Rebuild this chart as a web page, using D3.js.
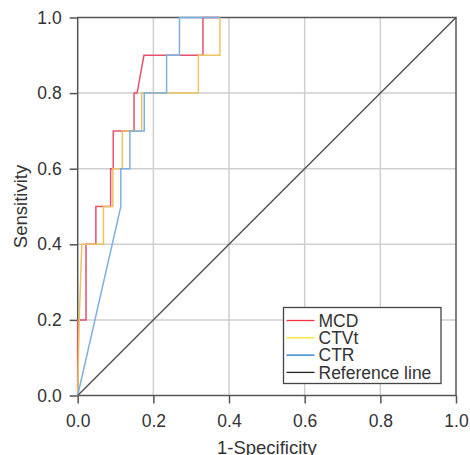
<!DOCTYPE html>
<html>
<head>
<meta charset="utf-8">
<script src="https://cdn.jsdelivr.net/npm/d3@7.9.0/dist/d3.min.js"></script>
<style>
  body { margin: 0; background: #fff; }
  svg text { font-family: "Liberation Sans", Arial, sans-serif; fill: #333; }
</style>
</head>
<body>
<div id="chart"></div>
<script>
// ROC points [1-specificity, sensitivity]
const mcd = [[0,0],[0,0.2],[0.022,0.2],[0.022,0.4],[0.048,0.4],[0.048,0.5],[0.087,0.5],[0.087,0.6],
  [0.094,0.6],[0.094,0.7],[0.149,0.7],[0.149,0.8],[0.157,0.8],[0.175,0.9],[0.331,0.9],[0.331,1],[0.376,1]];
const ctvt = [[0,0],[0.004,0.2],[0.011,0.4],[0.068,0.4],[0.068,0.5],[0.093,0.5],[0.093,0.6],[0.118,0.6],
  [0.118,0.7],[0.169,0.7],[0.169,0.8],[0.319,0.8],[0.319,0.9],[0.376,0.9],[0.376,1]];
const ctr = [[0,0],[0.114,0.5],[0.114,0.6],[0.138,0.6],[0.138,0.7],[0.176,0.7],[0.176,0.8],[0.235,0.8],
  [0.235,0.9],[0.269,0.9],[0.269,1],[0.376,1]];
const refLine = [[0,0],[1,1]];

const series = [
  { name: 'MCD', data: mcd, color: '#e8506e', key: '#f2303e' },
  { name: 'CTVt', data: ctvt, color: '#e8c462', key: '#f4e41c' },
  { name: 'CTR', data: ctr, color: '#7db0e2', key: '#1f78c6' },
  { name: 'Reference line', data: refLine, color: '#555', key: '#222' },
];
const ticks = [0, 0.2, 0.4, 0.6, 0.8, 1.0];

const width = 470, height = 455;
const plot = { left: 77.7, right: 456, top: 17.5, bottom: 395.5 };

const svg = d3.select('#chart').append('svg')
  .attr('width', width).attr('height', height);

const x = d3.scaleLinear().domain([0, 1]).range([plot.left, plot.right]);
const y = d3.scaleLinear().domain([0, 1]).range([plot.bottom, plot.top]);

// gridlines
const grid = svg.append('g').attr('stroke', '#cfcfcf').attr('stroke-width', 1.5);
grid.selectAll('.gx').data(ticks.slice(1, -1)).join('line')
  .attr('x1', d => x(d)).attr('x2', d => x(d))
  .attr('y1', plot.top).attr('y2', plot.bottom);
grid.selectAll('.gy').data(ticks.slice(1, -1)).join('line')
  .attr('y1', d => y(d)).attr('y2', d => y(d))
  .attr('x1', plot.left).attr('x2', plot.right);

// frame
svg.append('rect')
  .attr('x', plot.left).attr('y', plot.top)
  .attr('width', plot.right - plot.left).attr('height', plot.bottom - plot.top)
  .attr('fill', 'none').attr('stroke', '#555').attr('stroke-width', 1.5);

// axes
const fmt = d3.format('.1f');
const xAxis = svg.append('g').attr('transform', `translate(0,${plot.bottom})`)
  .call(d3.axisBottom(x).tickValues(ticks).tickFormat(fmt).tickSize(8).tickPadding(11));
const yAxis = svg.append('g').attr('transform', `translate(${plot.left},0)`)
  .call(d3.axisLeft(y).tickValues(ticks).tickFormat(fmt).tickSize(8).tickPadding(8));
[xAxis, yAxis].forEach(a => {
  a.select('.domain').remove();
  a.selectAll('line').attr('stroke', '#555').attr('stroke-width', 1.5);
  a.selectAll('text').style('font-size', '17.5px').attr('fill', '#333');
});

// curves
const line = d3.line().x(d => x(d[0])).y(d => y(d[1]));
svg.append('g').selectAll('path').data(series).join('path')
  .attr('d', d => line(d.data))
  .attr('fill', 'none')
  .attr('stroke', d => d.color)
  .attr('stroke-width', 1.5);

// axis titles
svg.append('text').attr('x', (plot.left + plot.right) / 2).attr('y', 454)
  .attr('text-anchor', 'middle').style('font-size', '18.5px').text('1-Specificity');
svg.append('text')
  .attr('transform', `translate(27,${(plot.top + plot.bottom) / 2}) rotate(-90)`)
  .attr('text-anchor', 'middle').style('font-size', '18.5px').text('Sensitivity');

// legend
const lg = svg.append('g').attr('transform', 'translate(283.5,307.5)');
lg.append('rect').attr('width', 157.5).attr('height', 76)
  .attr('fill', '#fff').attr('stroke', '#444').attr('stroke-width', 1.3);
const item = lg.selectAll('.item').data(series).join('g')
  .attr('transform', (d, i) => `translate(0,${13 + i * 17.3})`);
item.append('line').attr('x1', 3).attr('x2', 31)
  .attr('stroke', d => d.key).attr('stroke-width', 1.3);
item.append('text').attr('x', 35).attr('dy', '0.36em')
  .style('font-size', '17.5px').attr('fill', '#222').text(d => d.name);
</script>
</body>
</html>
